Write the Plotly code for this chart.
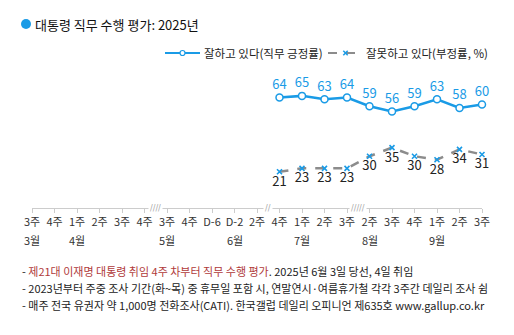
import plotly.graph_objects as go

weeks = ["3주", "4주", "1주", "2주", "3주", "4주", "3주", "4주", "D-6", "D-2", "2주",
         "4주", "1주", "2주", "3주", "2주", "3주", "4주", "1주", "2주", "3주"]
months = [(0, "3월"), (2, "4월"), (6, "5월"), (9, "6월"), (12, "7월"), (15, "8월"), (18, "9월")]
breaks = [(5.5, "////"), (10.5, "//"), (14.5, "/////")]
data_idx = list(range(11, 21))
approve = [64, 65, 63, 64, 59, 56, 59, 63, 58, 60]
disapprove = [21, 23, 23, 23, 30, 35, 30, 28, 34, 31]
series_names = ["잘하고 있다(직무 긍정률)", "잘못하고 있다(부정률, %)"]

BLUE = "#1a9be6"
GRAY = "#8c8c8c"
FONT = "Noto Sans CJK KR"

L, R, T, B = 32, 32, 70, 127
W, H = 514, 335
pw, ph = W - L - R, H - T - B

def px_x(x):
    return (x - L) / pw

def px_y(y):
    return (H - B - y) / ph

fig = go.Figure()
fig.add_trace(go.Scatter(
    x=data_idx, y=approve, mode="lines+markers+text",
    name=series_names[0],
    line=dict(color=BLUE, width=2.5),
    marker=dict(symbol="circle", size=7, color="white", line=dict(color=BLUE, width=1.5)),
    text=[str(v) for v in approve], textposition="top center",
    textfont=dict(color=BLUE, size=13, family=FONT),
    cliponaxis=False, showlegend=False,
))
fig.add_trace(go.Scatter(
    x=data_idx, y=disapprove, mode="lines+markers+text",
    name=series_names[1],
    line=dict(color=GRAY, width=2.5, dash="dash"),
    marker=dict(symbol="x-thin", size=5, color=BLUE, line=dict(color=BLUE, width=1.6)),
    text=[str(v) for v in disapprove], textposition="bottom center",
    textfont=dict(color="#222222", size=13, family=FONT),
    cliponaxis=False, showlegend=False,
))

ann = []
shapes = []
for i, m in months:
    ann.append(dict(x=i, y=px_y(240), xref="x", yref="paper", text=m, showarrow=False,
                    font=dict(size=11, color="#333333", family=FONT), xanchor="center", yanchor="middle"))
for bx, t in breaks:
    ann.append(dict(x=bx, y=0, xref="x", yref="paper", text=t, showarrow=False,
                    font=dict(size=8, color="#aaaaaa", family="DejaVu Sans"), xanchor="center", yanchor="middle",
                    bgcolor="white"))

# title
shapes.append(dict(type="circle", xref="paper", yref="paper",
                   x0=px_x(21), x1=px_x(31), y0=px_y(29), y1=px_y(19),
                   fillcolor=BLUE, line=dict(color=BLUE, width=0)))
ann.append(dict(x=px_x(33), y=px_y(24), xref="paper", yref="paper", text="대통령 직무 수행 평가: 2025년",
                showarrow=False, font=dict(size=13, color="#111111", family=FONT), xanchor="left", yanchor="middle"))

# legend (manual)
ly = 53
shapes.append(dict(type="line", xref="paper", yref="paper", x0=px_x(165), x1=px_x(200),
                   y0=px_y(ly), y1=px_y(ly), line=dict(color=BLUE, width=2)))
shapes.append(dict(type="circle", xref="paper", yref="paper", x0=px_x(180), x1=px_x(185),
                   y0=px_y(ly + 2.5), y1=px_y(ly - 2.5), fillcolor="white", line=dict(color=BLUE, width=1.2)))
ann.append(dict(x=px_x(202), y=px_y(ly), xref="paper", yref="paper", text=series_names[0], showarrow=False,
                font=dict(size=11.5, color="#222222", family=FONT), xanchor="left", yanchor="middle"))
shapes.append(dict(type="line", xref="paper", yref="paper", x0=px_x(328), x1=px_x(363),
                   y0=px_y(ly), y1=px_y(ly), line=dict(color=GRAY, width=2, dash="dash")))
for dx in (-1, 1):
    shapes.append(dict(type="line", xref="paper", yref="paper", x0=px_x(345.5 - 2.2), x1=px_x(345.5 + 2.2),
                       y0=px_y(ly - 2.2 * dx), y1=px_y(ly + 2.2 * dx), line=dict(color=BLUE, width=1.5)))
ann.append(dict(x=px_x(364), y=px_y(ly), xref="paper", yref="paper", text=series_names[1], showarrow=False,
                font=dict(size=11.5, color="#222222", family=FONT), xanchor="left", yanchor="middle"))

notes = [
    "- <span style='color:#b03a3a'>제21대 이재명 대통령 취임 4주 차부터 직무 수행 평가</span>. 2025년 6월 3일 당선, 4일 취임",
    "- 2023년부터 주중 조사 기간(화~목) 중 휴무일 포함 시, 연말연시·여름휴가철 각각 3주간 데일리 조사 쉼",
    "- 매주 전국 유권자 약 1,000명 전화조사(CATI). 한국갤럽 데일리 오피니언 제635호 www.gallup.co.kr",
]
for k, n in enumerate(notes):
    ann.append(dict(x=px_x(20), y=px_y(271 + 17 * k), xref="paper", yref="paper", text=n, showarrow=False,
                    font=dict(size=11, color="#222222", family=FONT), xanchor="left", yanchor="middle"))

fig.update_layout(
    width=W, height=H, margin=dict(l=L, r=R, t=T, b=B),
    paper_bgcolor="white", plot_bgcolor="white",
    font=dict(family=FONT, color="#333333"),
    xaxis=dict(range=[0, 20], tickvals=list(range(len(weeks))), ticktext=weeks,
               showline=True, linecolor="#cccccc", linewidth=1, ticks="outside", ticklen=4,
               tickcolor="#cccccc", showgrid=False, zeroline=False,
               tickfont=dict(size=11, color="#333333", family=FONT)),
    yaxis=dict(range=[0, 80], visible=False),
    showlegend=False,
    annotations=ann,
    shapes=shapes,
)
fig.write_html("out.html")
